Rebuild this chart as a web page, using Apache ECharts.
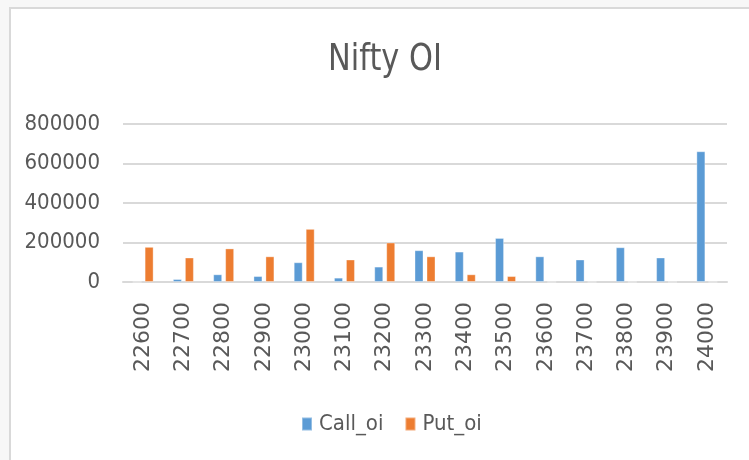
<!DOCTYPE html>
<html>
<head>
<meta charset="utf-8">
<script src="https://cdn.jsdelivr.net/npm/echarts@6/dist/echarts.min.js"></script>
<style>
  html, body { margin: 0; padding: 0; background: #f7f7f7; }
  #main { width: 749px; height: 460px; }
</style>
</head>
<body>
<div id="main"></div>
<script>
var strikes = ['22600', '22700', '22800', '22900', '23000', '23100', '23200', '23300',
               '23400', '23500', '23600', '23700', '23800', '23900', '24000'];
var callOi = [0, 15000, 39000, 30000, 100000, 22000, 78000, 161000,
              154000, 223000, 130000, 114000, 176000, 124000, 662000];
var putOi = [178000, 124000, 170000, 130000, 269000, 114000, 200000, 130000,
             39000, 30000, 0, 0, 0, 0, 0];
var yTicks = [0, 200000, 400000, 600000, 800000];

var chart = echarts.init(document.getElementById('main'));
var txtColor = '#595959';
var narrow = '"DejaVu Sans Condensed", sans-serif';

var option = {
    backgroundColor: '#f7f7f7',
    animation: false,
    graphic: [
        {
            type: 'rect',
            z: -10,
            shape: { x: 10, y: 8, width: 800, height: 500 },
            style: { fill: '#ffffff', stroke: '#d9d9d9', lineWidth: 2 }
        },
        {
            type: 'text',
            x: 385,
            y: 60,
            scaleX: 0.89,
            style: {
                text: 'Nifty OI',
                fill: txtColor,
                font: '38px ' + narrow,
                align: 'center',
                verticalAlign: 'middle'
            }
        }
    ],
    legend: {
        top: 408,
        left: 296,
        itemWidth: 10,
        itemHeight: 13,
        itemGap: 21,
        icon: 'rect',
        textStyle: { color: txtColor, fontSize: 22, fontFamily: narrow, padding: [0, 0, 0, 2] },
        data: ['Call_oi', 'Put_oi']
    },
    grid: { left: 123, right: 22, top: 124, bottom: 178 },
    xAxis: {
        type: 'category',
        data: strikes,
        axisTick: { show: false },
        axisLine: { show: true, lineStyle: { color: '#d9d9d9', width: 2 } },
        axisLabel: {
            rotate: 90,
            margin: 20,
            color: txtColor,
            fontSize: 22,
            fontFamily: 'DejaVu Sans'
        }
    },
    yAxis: {
        type: 'value',
        min: yTicks[0],
        max: yTicks[yTicks.length - 1],
        interval: 200000,
        axisLine: { show: false },
        axisTick: { show: false },
        splitLine: { lineStyle: { color: '#d9d9d9', width: 2 } },
        axisLabel: {
            margin: 23,
            color: txtColor,
            fontSize: 22,
            fontFamily: narrow,
            formatter: function (v) { return String(v); }
        }
    },
    series: [
        {
            name: 'Call_oi',
            type: 'bar',
            data: callOi,
            barWidth: 9,
            barGap: '33%',
            itemStyle: { color: '#5b9bd5', borderColor: 'rgba(255,255,255,0.35)', borderWidth: 1 }
        },
        {
            name: 'Put_oi',
            type: 'bar',
            data: putOi,
            barWidth: 9,
            itemStyle: { color: '#ed7d31', borderColor: 'rgba(255,255,255,0.35)', borderWidth: 1 }
        }
    ]
};
chart.setOption(option);
</script>
</body>
</html>
